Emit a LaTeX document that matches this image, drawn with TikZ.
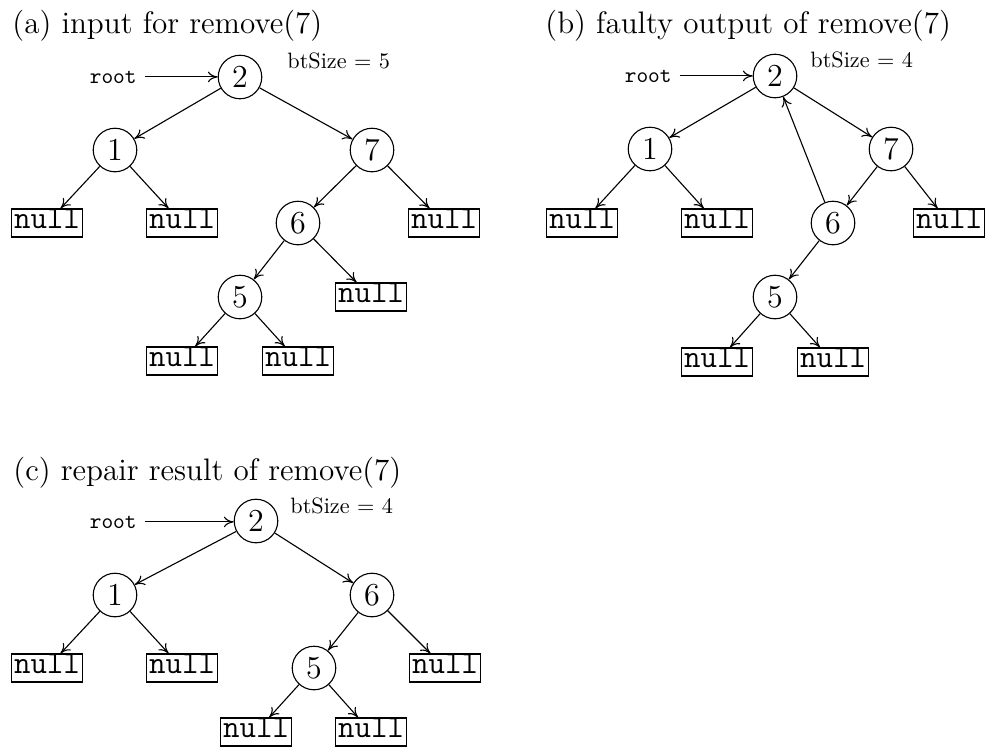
\documentclass[tikz,border=0pt]{standalone}
\usepackage{fontspec}
\usetikzlibrary{arrows.meta}
\tikzset{
  key/.style={circle, draw, line width=0.5pt, minimum size=19.6pt, inner sep=0pt,
    font=\fontsize{14.4}{17}\selectfont},
  nil/.style={draw, line width=0.5pt, inner xsep=1.1pt, inner ysep=0.7pt,
    text height=7.85pt, text depth=3.35pt,
    font=\ttfamily\fontsize{14.4}{17}\selectfont},
  ptr/.style={-{To[length=4.4pt,width=4.8pt]}, line width=0.5pt},
  caption/.style={anchor=base west, inner sep=0pt, font=\fontsize{14}{17}\selectfont},
  sizelabel/.style={anchor=base west, inner sep=0pt, font=\fontsize{10}{12}\selectfont},
  rootlabel/.style={anchor=base east, inner sep=3.4pt, font=\ttfamily\fontsize{10}{12}\selectfont},
}
\begin{document}
\begin{tikzpicture}[x=0.45pt, y=-0.45pt]
\useasboundingbox (0,0) rectangle (989,751);

% ---------- (a) input ----------
\node[caption] (ta) at (12,33) {(a) input for remove(7)};
\node[key] (a2) at (240,77) {2};
\node[rootlabel] (ra) at (144.5,83) {root};
\node[sizelabel] (sa) at (287,68) {btSize $=$ 5};
\node[key] (a1) at (115,150) {1};
\node[key] (a7) at (372,150) {7};
\node[nil] (a1l) at (47,223) {null};
\node[nil] (a1r) at (182,223) {null};
\node[key] (a6) at (298,223) {6};
\node[nil] (a7r) at (444,223) {null};
\node[key] (a5) at (240,297) {5};
\node[nil] (a6r) at (371,297) {null};
\node[nil] (a5l) at (182,361) {null};
\node[nil] (a5r) at (298,361) {null};

\draw[ptr] (ra.east) -- (ra.east -| a2.west);
\draw[ptr] (a2) -- (a1);
\draw[ptr] (a2) -- (a7);
\draw[ptr] (a1) -- (a1l);
\draw[ptr] (a1) -- (a1r);
\draw[ptr] (a7) -- (a6);
\draw[ptr] (a7) -- (a7r);
\draw[ptr] (a6) -- (a5);
\draw[ptr] (a6) -- (a6r);
\draw[ptr] (a5) -- (a5l);
\draw[ptr] (a5) -- (a5r);

% ---------- (b) faulty output ----------
\node[caption] (tb) at (545,33) {(b) faulty output of remove(7)};
\node[key] (b2) at (775,76) {2};
\node[rootlabel] (rb) at (679.5,82) {root};
\node[sizelabel] (sb) at (810,67) {btSize $=$ 4};
\node[key] (b1) at (650,149) {1};
\node[key] (b7) at (891,149) {7};
\node[nil] (b1l) at (582,223) {null};
\node[nil] (b1r) at (717,223) {null};
\node[key] (b6) at (833,223) {6};
\node[nil] (b7r) at (949,223) {null};
\node[key] (b5) at (775,297) {5};
\node[nil] (b5l) at (717,362) {null};
\node[nil] (b5r) at (833,362) {null};

\draw[ptr] (rb.east) -- (rb.east -| b2.west);
\draw[ptr] (b2) -- (b1);
\draw[ptr] (b2) -- (b7);
\draw[ptr] (b1) -- (b1l);
\draw[ptr] (b1) -- (b1r);
\draw[ptr] (b7) -- (b6);
\draw[ptr] (b7) -- (b7r);
\draw[ptr] (b6) -- (b5);
\draw[ptr] (b6) -- (b2);
\draw[ptr] (b5) -- (b5l);
\draw[ptr] (b5) -- (b5r);

% ---------- (c) repaired ----------
\node[caption] (tc) at (13,480) {(c) repair result of remove(7)};
\node[key] (c2) at (256,521) {2};
\node[rootlabel] (rc) at (144.5,528) {root};
\node[sizelabel] (sc) at (290,513) {btSize $=$ 4};
\node[key] (c1) at (115,595) {1};
\node[key] (c6) at (372,595) {6};
\node[nil] (c1l) at (47,668) {null};
\node[nil] (c1r) at (182,668) {null};
\node[key] (c5) at (314,668) {5};
\node[nil] (c6r) at (445,668) {null};
\node[nil] (c5l) at (256,732) {null};
\node[nil] (c5r) at (371,732) {null};

\draw[ptr] (rc.east) -- (rc.east -| c2.west);
\draw[ptr] (c2) -- (c1);
\draw[ptr] (c2) -- (c6);
\draw[ptr] (c1) -- (c1l);
\draw[ptr] (c1) -- (c1r);
\draw[ptr] (c6) -- (c5);
\draw[ptr] (c6) -- (c6r);
\draw[ptr] (c5) -- (c5l);
\draw[ptr] (c5) -- (c5r);
\end{tikzpicture}
\end{document}
